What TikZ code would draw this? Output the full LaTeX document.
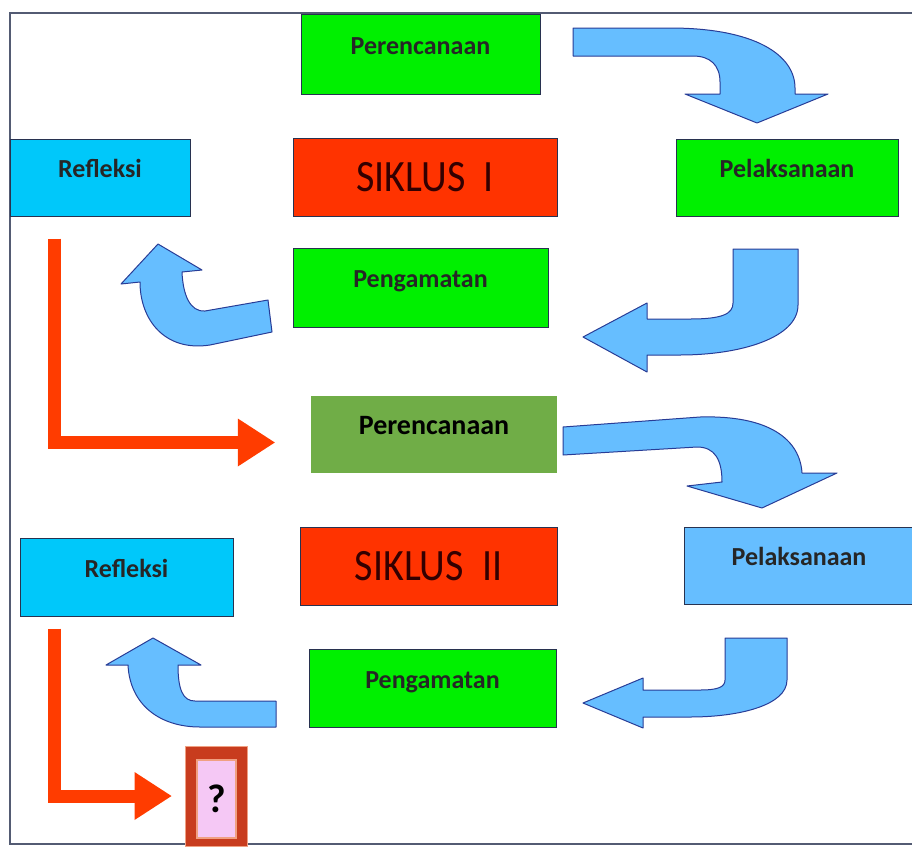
\documentclass[tikz,border=0pt]{standalone}
\usepackage{fontspec}
\setmainfont{Carlito}
\definecolor{boxgreen}{RGB}{0, 240, 0}
\definecolor{boxcyan}{RGB}{0, 200, 250}
\definecolor{cyclered}{RGB}{255, 51, 0}
\definecolor{flowblue}{RGB}{102, 190, 255}
\definecolor{flowedge}{RGB}{40, 60, 150}
\definecolor{oliveplan}{RGB}{112, 173, 71}
\definecolor{edgedark}{RGB}{40, 50, 80}
\definecolor{arrowred}{RGB}{255, 60, 0}
\definecolor{qpink}{RGB}{245, 200, 245}
\definecolor{qred}{RGB}{200, 60, 30}
\definecolor{qsalmon}{RGB}{240, 160, 130}
\usetikzlibrary{arrows.meta}

\begin{document}
\begin{tikzpicture}[
  x=1pt, y=-1pt,
  box/.style={draw=edgedark, line width=1pt, inner sep=0pt},
  lbl/.style={font=\fontsize{26}{26}\selectfont\bfseries, text=black!85, text height=18pt, text depth=18pt},
  cycbox/.style={box, fill=cyclered, minimum height=78pt, font=\fontsize{40}{40}\selectfont, text=red!20!black},
  bluearrow/.style={fill=flowblue, draw=flowedge, line width=1pt, line join=round},
  redflow/.style={draw=arrowred, line width=13pt, -{Triangle[length=37pt, width=48pt, line width=0pt]}}
]
  \useasboundingbox (0,0) rectangle (912,846);
  \draw[edgedark!80, line width=1.2pt] (912,13) -- (10,13) -- (10,844) -- (912,844);

  \node[box, fill=boxgreen, minimum width=239pt, minimum height=80pt, lbl] (plan1) at (420.5,54) {Perencanaan};
  \node[box, fill=boxcyan, minimum width=180pt, minimum height=77pt, lbl] (refl1) at (100,177.5) {Refleksi};
  \node[cycbox, minimum width=264pt] (cyc1) at (425,177.5) {\scalebox{1}[1.12]{SIKLUS\ \ I}};
  \node[box, fill=boxgreen, minimum width=222pt, minimum height=77pt, lbl] (exec1) at (787,177.5) {Pelaksanaan};
  \node[box, fill=boxgreen, minimum width=255pt, minimum height=79pt, lbl] (obs1) at (420.5,287.5) {Pengamatan};

  \node[fill=oliveplan, minimum width=246pt, minimum height=77pt, inner sep=0pt, lbl, font=\fontsize{28}{28}\selectfont\bfseries, text=black] (plan2) at (434,434.5) {Perencanaan};
  \node[box, fill=boxcyan, minimum width=213pt, minimum height=78pt, lbl] (refl2) at (126.5,577) {Refleksi};
  \node[cycbox, minimum width=257pt] (cyc2) at (428.5,566.5) {\scalebox{1}[1.12]{SIKLUS\ \ II}};
  \node[box, fill=flowblue, minimum width=230pt, minimum height=77pt, lbl] (exec2) at (799,565.5) {Pelaksanaan};
  \node[box, fill=boxgreen, minimum width=247pt, minimum height=78pt, lbl] (obs2) at (432.5,688) {Pengamatan};

  \node[draw=qsalmon, fill=qred, line width=1pt, minimum width=62pt, minimum height=100pt, inner sep=0pt] (qbox) at (216,796) {};
  \node[draw=qsalmon, fill=qpink, line width=1.5pt, minimum width=39pt, minimum height=78pt, inner sep=0pt, font=\fontsize{40}{40}\selectfont\bfseries] (qmark) at (216.5,799) {?};

  \draw[bluearrow] (573,28) -- (670,28) .. controls (755,28) and (795,55) .. (795,88) -- (795,94) -- (828,94) -- (757,123) -- (685,94) -- (720,94) -- (720,82) .. controls (720,65) and (710,56) .. (693,56) -- (573,56) -- cycle;
  \draw[bluearrow] (733,249) -- (798,249) -- (798,305) .. controls (798,338) and (740,355) .. (680,355) -- (647,355) -- (647,372) -- (583,337) -- (647,303) -- (647,319) -- (690,319) .. controls (722,319) and (733,314) .. (733,303) -- cycle;
  \draw[bluearrow] (268,300) -- (272,332) -- (210,345) .. controls (165,352) and (140,320) .. (140,282) -- (121,284) -- (158,244) -- (202,270) -- (182,272) .. controls (183,295) and (190,312) .. (205,311) -- cycle;

  \draw[bluearrow] (563,427) -- (700,417) .. controls (770,415) and (800,440) .. (802,473) -- (837,473) -- (762,508) -- (687,486) -- (722,482) .. controls (722,460) and (715,447) .. (697,447) -- (563,455) -- cycle;
  \draw[bluearrow] (725,638) -- (787,638) -- (787,680) .. controls (787,705) and (740,717) .. (690,717) -- (643,717) -- (643,728) -- (583,703) -- (643,678) -- (643,690) -- (700,690) .. controls (718,690) and (725,687) .. (725,680) -- cycle;
  \draw[bluearrow] (276,701) -- (195,701) .. controls (183,701) and (178,690) .. (178,665) -- (201,665) -- (153,638) -- (106,665) -- (128,665) .. controls (130,705) and (160,727) .. (200,727) -- (276,727) -- cycle;

  \draw[redflow] ([xshift=-46pt, yshift=-22pt]refl1.south) |- ([xshift=-36pt, yshift=-8pt]plan2.west);
  \draw[redflow] ([xshift=-72.5pt, yshift=-12pt]refl2.south) |- ([xshift=-13pt]qbox.west);
\end{tikzpicture}
\end{document}
